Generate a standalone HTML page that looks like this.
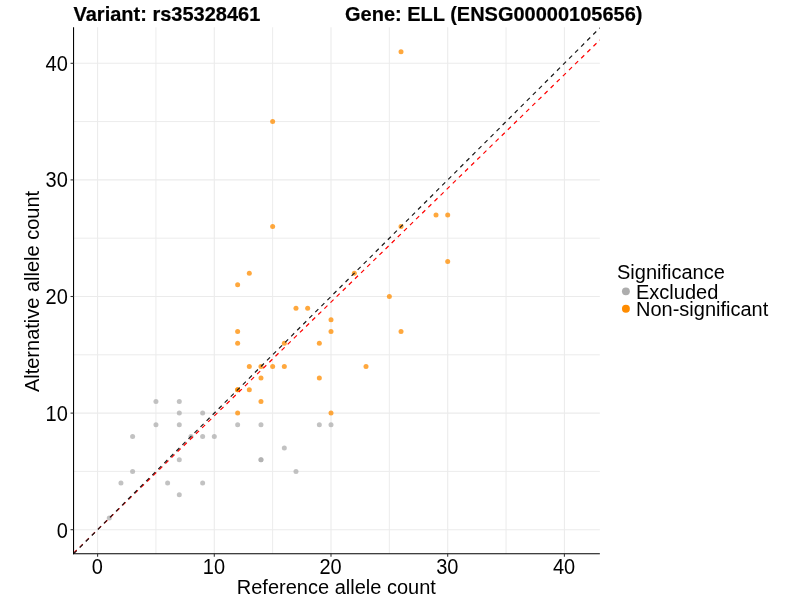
<!DOCTYPE html>
<html><head><meta charset="utf-8"><style>
html,body{margin:0;padding:0;background:#fff;}
svg{display:block;will-change:transform;}
text{font-family:"Liberation Sans",sans-serif;}
</style></head><body>
<svg width="800" height="600" viewBox="0 0 800 600">
<rect x="0" y="0" width="800" height="600" fill="#fff"/>

<line x1="73.55" y1="471.40" x2="599.85" y2="471.40" stroke="#ececec" stroke-width="1.0"/>
<line x1="155.95" y1="27.3" x2="155.95" y2="553.8" stroke="#ececec" stroke-width="1.0"/>
<line x1="73.55" y1="354.80" x2="599.85" y2="354.80" stroke="#ececec" stroke-width="1.0"/>
<line x1="272.65" y1="27.3" x2="272.65" y2="553.8" stroke="#ececec" stroke-width="1.0"/>
<line x1="73.55" y1="238.20" x2="599.85" y2="238.20" stroke="#ececec" stroke-width="1.0"/>
<line x1="389.35" y1="27.3" x2="389.35" y2="553.8" stroke="#ececec" stroke-width="1.0"/>
<line x1="73.55" y1="121.60" x2="599.85" y2="121.60" stroke="#ececec" stroke-width="1.0"/>
<line x1="506.05" y1="27.3" x2="506.05" y2="553.8" stroke="#ececec" stroke-width="1.0"/>
<line x1="73.55" y1="529.70" x2="599.85" y2="529.70" stroke="#ebebeb" stroke-width="1.07"/>
<line x1="97.60" y1="27.3" x2="97.60" y2="553.8" stroke="#ebebeb" stroke-width="1.07"/>
<line x1="73.55" y1="413.10" x2="599.85" y2="413.10" stroke="#ebebeb" stroke-width="1.07"/>
<line x1="214.30" y1="27.3" x2="214.30" y2="553.8" stroke="#ebebeb" stroke-width="1.07"/>
<line x1="73.55" y1="296.50" x2="599.85" y2="296.50" stroke="#ebebeb" stroke-width="1.07"/>
<line x1="331.00" y1="27.3" x2="331.00" y2="553.8" stroke="#ebebeb" stroke-width="1.07"/>
<line x1="73.55" y1="179.90" x2="599.85" y2="179.90" stroke="#ebebeb" stroke-width="1.07"/>
<line x1="447.70" y1="27.3" x2="447.70" y2="553.8" stroke="#ebebeb" stroke-width="1.07"/>
<line x1="73.55" y1="63.30" x2="599.85" y2="63.30" stroke="#ebebeb" stroke-width="1.07"/>
<line x1="564.40" y1="27.3" x2="564.40" y2="553.8" stroke="#ebebeb" stroke-width="1.07"/>
<circle cx="155.95" cy="401.44" r="2.5" fill="#adadad" fill-opacity="0.75"/>
<circle cx="179.29" cy="401.44" r="2.5" fill="#adadad" fill-opacity="0.75"/>
<circle cx="179.29" cy="413.10" r="2.5" fill="#adadad" fill-opacity="0.75"/>
<circle cx="202.63" cy="413.10" r="2.5" fill="#adadad" fill-opacity="0.75"/>
<circle cx="155.95" cy="424.76" r="2.5" fill="#adadad" fill-opacity="0.75"/>
<circle cx="179.29" cy="424.76" r="2.5" fill="#adadad" fill-opacity="0.75"/>
<circle cx="132.61" cy="436.42" r="2.5" fill="#adadad" fill-opacity="0.75"/>
<circle cx="190.96" cy="436.42" r="2.5" fill="#adadad" fill-opacity="0.75"/>
<circle cx="202.63" cy="436.42" r="2.5" fill="#adadad" fill-opacity="0.75"/>
<circle cx="214.30" cy="436.42" r="2.5" fill="#adadad" fill-opacity="0.75"/>
<circle cx="237.64" cy="424.76" r="2.5" fill="#adadad" fill-opacity="0.75"/>
<circle cx="260.98" cy="424.76" r="2.5" fill="#adadad" fill-opacity="0.75"/>
<circle cx="319.33" cy="424.76" r="2.5" fill="#adadad" fill-opacity="0.75"/>
<circle cx="331.00" cy="424.76" r="2.5" fill="#adadad" fill-opacity="0.75"/>
<circle cx="284.32" cy="448.08" r="2.5" fill="#adadad" fill-opacity="0.75"/>
<circle cx="260.98" cy="459.74" r="2.5" fill="#adadad" fill-opacity="0.75"/>
<circle cx="260.98" cy="459.74" r="2.5" fill="#adadad" fill-opacity="0.75"/>
<circle cx="179.29" cy="459.74" r="2.5" fill="#adadad" fill-opacity="0.75"/>
<circle cx="132.61" cy="471.40" r="2.5" fill="#adadad" fill-opacity="0.75"/>
<circle cx="295.99" cy="471.40" r="2.5" fill="#adadad" fill-opacity="0.75"/>
<circle cx="120.94" cy="483.06" r="2.5" fill="#adadad" fill-opacity="0.75"/>
<circle cx="167.62" cy="483.06" r="2.5" fill="#adadad" fill-opacity="0.75"/>
<circle cx="202.63" cy="483.06" r="2.5" fill="#adadad" fill-opacity="0.75"/>
<circle cx="179.29" cy="494.72" r="2.5" fill="#adadad" fill-opacity="0.75"/>
<circle cx="109.27" cy="518.04" r="2.5" fill="#adadad" fill-opacity="0.75"/>
<circle cx="237.64" cy="389.78" r="2.5" fill="#ff8c00" fill-opacity="0.76"/>
<circle cx="237.64" cy="389.78" r="2.5" fill="#ff8c00" fill-opacity="0.76"/>
<circle cx="249.31" cy="389.78" r="2.5" fill="#ff8c00" fill-opacity="0.76"/>
<circle cx="260.98" cy="401.44" r="2.5" fill="#ff8c00" fill-opacity="0.76"/>
<circle cx="237.64" cy="413.10" r="2.5" fill="#ff8c00" fill-opacity="0.76"/>
<circle cx="331.00" cy="413.10" r="2.5" fill="#ff8c00" fill-opacity="0.76"/>
<circle cx="447.70" cy="261.52" r="2.5" fill="#ff8c00" fill-opacity="0.76"/>
<circle cx="249.31" cy="273.18" r="2.5" fill="#ff8c00" fill-opacity="0.76"/>
<circle cx="354.34" cy="273.18" r="2.5" fill="#ff8c00" fill-opacity="0.76"/>
<circle cx="237.64" cy="284.84" r="2.5" fill="#ff8c00" fill-opacity="0.76"/>
<circle cx="389.35" cy="296.50" r="2.5" fill="#ff8c00" fill-opacity="0.76"/>
<circle cx="295.99" cy="308.16" r="2.5" fill="#ff8c00" fill-opacity="0.76"/>
<circle cx="307.66" cy="308.16" r="2.5" fill="#ff8c00" fill-opacity="0.76"/>
<circle cx="331.00" cy="319.82" r="2.5" fill="#ff8c00" fill-opacity="0.76"/>
<circle cx="237.64" cy="331.48" r="2.5" fill="#ff8c00" fill-opacity="0.76"/>
<circle cx="331.00" cy="331.48" r="2.5" fill="#ff8c00" fill-opacity="0.76"/>
<circle cx="401.02" cy="331.48" r="2.5" fill="#ff8c00" fill-opacity="0.76"/>
<circle cx="237.64" cy="343.14" r="2.5" fill="#ff8c00" fill-opacity="0.76"/>
<circle cx="284.32" cy="343.14" r="2.5" fill="#ff8c00" fill-opacity="0.76"/>
<circle cx="319.33" cy="343.14" r="2.5" fill="#ff8c00" fill-opacity="0.76"/>
<circle cx="249.31" cy="366.46" r="2.5" fill="#ff8c00" fill-opacity="0.76"/>
<circle cx="260.98" cy="366.46" r="2.5" fill="#ff8c00" fill-opacity="0.76"/>
<circle cx="272.65" cy="366.46" r="2.5" fill="#ff8c00" fill-opacity="0.76"/>
<circle cx="284.32" cy="366.46" r="2.5" fill="#ff8c00" fill-opacity="0.76"/>
<circle cx="366.01" cy="366.46" r="2.5" fill="#ff8c00" fill-opacity="0.76"/>
<circle cx="260.98" cy="378.12" r="2.5" fill="#ff8c00" fill-opacity="0.76"/>
<circle cx="319.33" cy="378.12" r="2.5" fill="#ff8c00" fill-opacity="0.76"/>
<circle cx="401.02" cy="51.64" r="2.5" fill="#ff8c00" fill-opacity="0.76"/>
<circle cx="272.65" cy="121.60" r="2.5" fill="#ff8c00" fill-opacity="0.76"/>
<circle cx="272.65" cy="226.54" r="2.5" fill="#ff8c00" fill-opacity="0.76"/>
<circle cx="401.02" cy="226.54" r="2.5" fill="#ff8c00" fill-opacity="0.76"/>
<circle cx="436.03" cy="214.88" r="2.5" fill="#ff8c00" fill-opacity="0.76"/>
<circle cx="447.70" cy="214.88" r="2.5" fill="#ff8c00" fill-opacity="0.76"/>
<clipPath id="c"><rect x="73.55" y="27.3" width="526.3000000000001" height="526.5"/></clipPath>
<g clip-path="url(#c)">
<line x1="73.68" y1="553.02" x2="599.99" y2="39.88" stroke="#ff0000" stroke-width="1.2" stroke-dasharray="4.27 4.27"/>
<line x1="73.68" y1="553.60" x2="599.99" y2="27.74" stroke="#1a1a1a" stroke-width="1.2" stroke-dasharray="4.27 4.27"/>
</g>
<line x1="73.55" y1="27.3" x2="73.55" y2="554.3" stroke="#000" stroke-width="1.07"/>
<line x1="73.05" y1="553.8" x2="599.85" y2="553.8" stroke="#000" stroke-width="1.07"/>
<line x1="70.55" y1="529.70" x2="73.55" y2="529.70" stroke="#333" stroke-width="1.07"/>
<line x1="97.60" y1="553.8" x2="97.60" y2="556.8" stroke="#333" stroke-width="1.07"/>
<line x1="70.55" y1="413.10" x2="73.55" y2="413.10" stroke="#333" stroke-width="1.07"/>
<line x1="214.30" y1="553.8" x2="214.30" y2="556.8" stroke="#333" stroke-width="1.07"/>
<line x1="70.55" y1="296.50" x2="73.55" y2="296.50" stroke="#333" stroke-width="1.07"/>
<line x1="331.00" y1="553.8" x2="331.00" y2="556.8" stroke="#333" stroke-width="1.07"/>
<line x1="70.55" y1="179.90" x2="73.55" y2="179.90" stroke="#333" stroke-width="1.07"/>
<line x1="447.70" y1="553.8" x2="447.70" y2="556.8" stroke="#333" stroke-width="1.07"/>
<line x1="70.55" y1="63.30" x2="73.55" y2="63.30" stroke="#333" stroke-width="1.07"/>
<line x1="564.40" y1="553.8" x2="564.40" y2="556.8" stroke="#333" stroke-width="1.07"/>
<text transform="translate(67.85,537.80) scale(1.0,1.06)" font-size="20" text-anchor="end" fill="#000">0</text>
<text transform="translate(97.20,573.80) scale(1.0,1.06)" font-size="20" text-anchor="middle" fill="#000">0</text>
<text transform="translate(67.85,421.20) scale(1.0,1.06)" font-size="20" text-anchor="end" fill="#000">10</text>
<text transform="translate(213.90,573.80) scale(1.0,1.06)" font-size="20" text-anchor="middle" fill="#000">10</text>
<text transform="translate(67.85,304.00) scale(1.0,1.06)" font-size="20" text-anchor="end" fill="#000">20</text>
<text transform="translate(330.60,573.80) scale(1.0,1.06)" font-size="20" text-anchor="middle" fill="#000">20</text>
<text transform="translate(67.85,187.40) scale(1.0,1.06)" font-size="20" text-anchor="end" fill="#000">30</text>
<text transform="translate(447.30,573.80) scale(1.0,1.06)" font-size="20" text-anchor="middle" fill="#000">30</text>
<text transform="translate(67.85,71.40) scale(1.0,1.06)" font-size="20" text-anchor="end" fill="#000">40</text>
<text transform="translate(564.00,573.80) scale(1.0,1.06)" font-size="20" text-anchor="middle" fill="#000">40</text>
<text transform="translate(336.30,594.00) scale(1.0,1.0)" font-size="20" text-anchor="middle" fill="#000">Reference allele count</text>
<text transform="translate(39.25,291.50) rotate(-90) scale(1.0,1.0)" font-size="20" text-anchor="middle" fill="#000">Alternative allele count</text>
<text transform="translate(73.50,21.00) scale(1.0,1.03)" font-size="20" font-weight="bold" stroke="#000" stroke-width="0.2" fill="#000">Variant: rs35328461</text>
<text transform="translate(345.00,21.00) scale(1.0,1.03)" font-size="20" font-weight="bold" stroke="#000" stroke-width="0.2" fill="#000">Gene: ELL (ENSG00000105656)</text>
<text transform="translate(617.00,279.00) scale(1.0,1.0)" font-size="20" fill="#000">Significance</text>
<circle cx="625.9" cy="291.35" r="3.95" fill="#adadad"/>
<text transform="translate(636.00,299.00) scale(1.0,1.0)" font-size="20" fill="#000">Excluded</text>
<circle cx="625.9" cy="308.8" r="3.95" fill="#ff8c00"/>
<text transform="translate(636.00,316.00) scale(1.0,1.0)" font-size="20" fill="#000">Non-significant</text>
</svg></body></html>
